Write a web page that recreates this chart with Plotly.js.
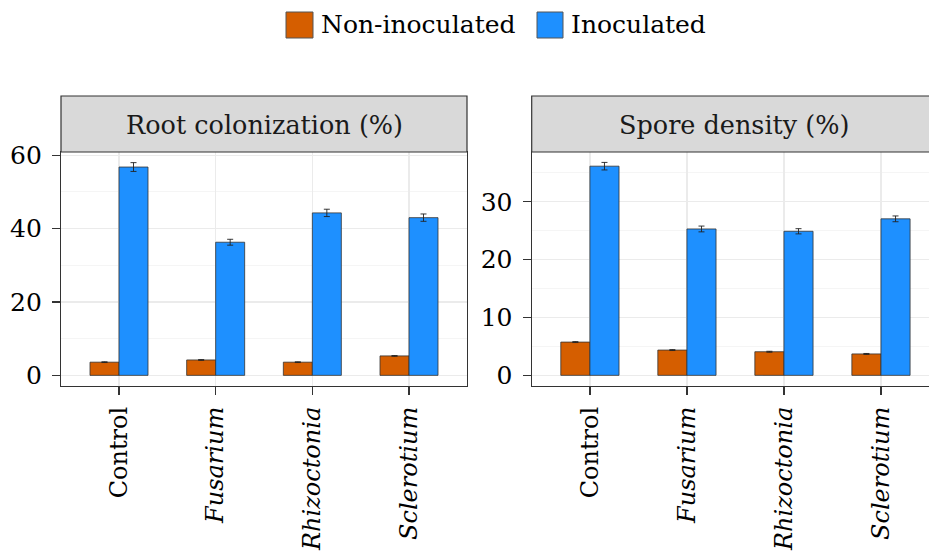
<!DOCTYPE html>
<html>
<head>
<meta charset="utf-8">
<script src="https://cdn.plot.ly/plotly-3.0.1.min.js"></script>
<style>html,body{margin:0;padding:0;background:#fff;}#chart{width:929px;height:552px;}</style>
</head>
<body>
<div id="chart"></div>
<script>
// ---- data ----
const categories = ['Control', 'Fusarium', 'Rhizoctonia', 'Sclerotium'];
const tickLabels = ['Control', '<i>Fusarium</i>', '<i>Rhizoctonia</i>', '<i>Sclerotium</i>'];
const seriesNames = ['Non-inoculated', 'Inoculated'];
const panelTitles = ['Root colonization (%)', 'Spore density (%)'];

const rootNonInoc = [3.6, 4.2, 3.6, 5.3];
const rootNonInocErr = [0.1, 0.1, 0.1, 0.1];
const rootInoc = [56.8, 36.3, 44.3, 43.0];
const rootInocErr = [1.2, 0.8, 1.0, 1.0];

const sporeNonInoc = [5.75, 4.37, 4.08, 3.7];
const sporeNonInocErr = [0.08, 0.08, 0.08, 0.08];
const sporeInoc = [36.15, 25.3, 24.9, 27.05];
const sporeInocErr = [0.65, 0.5, 0.45, 0.5];

const colors = ['#D55E00', '#1E90FF'];

// ---- styling ----
const FONT = 'DejaVu Serif, serif';
const W = 929, H = 552;
const px = v => v / W;
const py = v => 1 - v / H;

function bar(x, y, err, i, xa, ya) {
  return {
    type: 'bar', x: x, y: y, name: seriesNames[i],
    xaxis: xa, yaxis: ya, showlegend: false,
    marker: {color: colors[i], line: {color: '#333333', width: 0.8}},
    error_y: {type: 'data', array: err, visible: true, color: '#222222', thickness: 0.9, width: 3}
  };
}

const traces = [
  bar(categories, rootNonInoc, rootNonInocErr, 0, 'x', 'y'),
  bar(categories, rootInoc, rootInocErr, 1, 'x', 'y'),
  bar(categories, sporeNonInoc, sporeNonInocErr, 0, 'x2', 'y2'),
  bar(categories, sporeInoc, sporeInocErr, 1, 'x2', 'y2')
];

const plotTop = 152, plotBot = 386, stripTop = 96;
const leftDom = [px(61), px(467)];
const rightDom = [px(531.7), 1];
const yDom = [py(plotBot), py(plotTop)];

function xAxis(dom, anchor, range) {
  return {
    domain: dom, anchor: anchor, type: 'category',
    categoryorder: 'array', categoryarray: categories,
    tickmode: 'array', tickvals: categories, ticktext: tickLabels,
    range: range, tickangle: -90,
    showgrid: true, gridcolor: '#ebebeb', gridwidth: 1.2,
    ticks: 'outside', ticklen: 8, tickcolor: '#333333', tickwidth: 1.2,
    showline: true, linecolor: '#333333', linewidth: 1.2, mirror: true,
    tickfont: {family: FONT, size: 24, color: '#000000'},
    ticklabelstandoff: 2,
    zeroline: false
  };
}
function yAxis(dom, anchor, range, vals, minorVals) {
  return {
    domain: dom, anchor: anchor, range: range,
    tickmode: 'array', tickvals: vals, ticktext: vals.map(String),
    showgrid: true, gridcolor: '#ebebeb', gridwidth: 1.2,
    minor: {tickmode: 'array', tickvals: minorVals, showgrid: true, gridcolor: '#f2f2f2', gridwidth: 0.8, ticks: ''},
    ticks: 'outside', ticklen: 8, tickcolor: '#333333', tickwidth: 1.2,
    showline: true, linecolor: '#333333', linewidth: 1.2, mirror: true,
    tickfont: {family: FONT, size: 25, color: '#000000'},
    ticklabelstandoff: 5,
    zeroline: false
  };
}

const shapes = [
  {type: 'rect', xref: 'paper', yref: 'paper', x0: leftDom[0], x1: leftDom[1], y0: py(plotTop), y1: py(stripTop),
   fillcolor: '#d9d9d9', line: {color: '#333333', width: 1.2}, layer: 'above'},
  {type: 'rect', xref: 'paper', yref: 'paper', x0: rightDom[0], x1: 1.01, y0: py(plotTop), y1: py(stripTop),
   fillcolor: '#d9d9d9', line: {color: '#333333', width: 1.2}, layer: 'above'},
  // legend keys
  {type: 'rect', xref: 'paper', yref: 'paper', x0: px(286), x1: px(313), y0: py(38), y1: py(12),
   fillcolor: colors[0], line: {color: '#555555', width: 1}},
  {type: 'rect', xref: 'paper', yref: 'paper', x0: px(537), x1: px(563), y0: py(38), y1: py(12),
   fillcolor: colors[1], line: {color: '#555555', width: 1}}
];

const annotations = [
  {xref: 'paper', yref: 'paper', x: (leftDom[0] + leftDom[1]) / 2, y: py(125), text: panelTitles[0],
   showarrow: false, xanchor: 'center', yanchor: 'middle', font: {family: FONT, size: 25.5, color: '#1a1a1a'}},
  {xref: 'paper', yref: 'paper', x: px(734), y: py(125), text: panelTitles[1],
   showarrow: false, xanchor: 'center', yanchor: 'middle', font: {family: FONT, size: 25.5, color: '#1a1a1a'}},
  {xref: 'paper', yref: 'paper', x: px(319), y: py(25), text: seriesNames[0],
   showarrow: false, xanchor: 'left', yanchor: 'middle', font: {family: FONT, size: 25, color: '#000000'}},
  {xref: 'paper', yref: 'paper', x: px(569), y: py(25), text: seriesNames[1],
   showarrow: false, xanchor: 'left', yanchor: 'middle', font: {family: FONT, size: 25, color: '#000000'}}
];

const layout = {
  width: W, height: H,
  margin: {l: 0, r: 0, t: 0, b: 0},
  paper_bgcolor: '#ffffff', plot_bgcolor: '#ffffff',
  barmode: 'group', bargap: 0.4, bargroupgap: 0,
  showlegend: false,
  font: {family: FONT},
  xaxis: xAxis(leftDom, 'y', [-0.6, 3.6]),
  yaxis: yAxis(yDom, 'x', [-2.9, 60.9], [0, 20, 40, 60], [10, 30, 50]),
  xaxis2: xAxis(rightDom, 'y2', [-0.6, 3.495]),
  yaxis2: yAxis(yDom, 'x2', [-1.84, 38.6], [0, 10, 20, 30], [5, 15, 25, 35]),
  shapes: shapes,
  annotations: annotations
};

Plotly.newPlot('chart', traces, layout, {staticPlot: true, displayModeBar: false});
</script>
</body>
</html>
